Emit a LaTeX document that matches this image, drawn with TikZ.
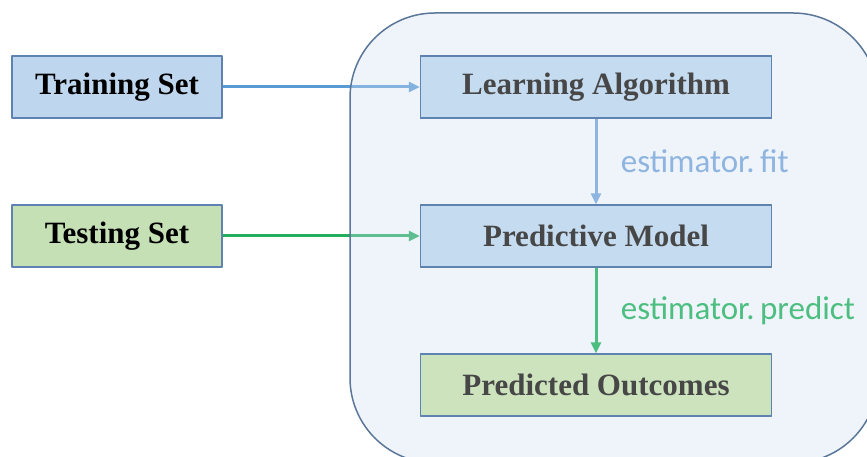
\documentclass[tikz,border=0pt]{standalone}
\usepackage{fontspec}
\setmainfont{Liberation Serif}
\newfontfamily\labfont{Carlito}
\usetikzlibrary{arrows.meta}
\definecolor{boxblue}{HTML}{BED7EE}
\definecolor{boxgreen}{HTML}{C6E0B6}
\definecolor{boxline}{HTML}{5F83B0}
\definecolor{panelfill}{HTML}{D1DDF1}
\definecolor{panelline}{HTML}{5A7698}
\definecolor{arrblue}{HTML}{5B9BD5}
\definecolor{arrgreen}{HTML}{22AE5C}
\definecolor{fitblue}{HTML}{8EB4E0}
\definecolor{predgreen}{HTML}{4CBF80}
\begin{document}
\begin{tikzpicture}[x=1pt,y=1pt,line join=round,
  box/.style={draw=boxline,line width=1.3pt,minimum width=210pt,minimum height=62pt,
    inner sep=0pt,font=\fontsize{31}{33}\selectfont\bfseries},
  wide/.style={box,minimum width=351pt,text=black!72},
  link/.style={line width=3pt,-{Triangle[length=11pt,width=10pt]}},
  lab/.style={anchor=west,font=\labfont\fontsize{33}{35}\selectfont}]
  \clip (0,0) rectangle (867,457);
  % data sets on the left
  \node[box,fill=boxblue] (train) at (117,370) {Training Set};
  \node[box,fill=boxgreen] (test) at (117,221) {Testing Set};
  \node[wide] (algo) at (596,370) {\phantom{L}};
  \node[wide] (model) at (596,221) {\phantom{P}};
  \draw[link,arrblue] (train.east) -- (algo.west);
  \draw[link,arrgreen] (test.east) -- (model.west);
  % the estimator panel
  \draw[panelline,line width=1.5pt,fill=panelfill,fill opacity=0.35,rounded corners=85pt]
    (350,-6) rectangle (878,444);
  \node[wide,fill=boxblue!90] (algo) at (596,370) {Learning Algorithm};
  \node[wide,fill=boxblue!90] (model) at (596,221) {Predictive Model};
  \node[wide,fill=boxgreen!90] (outcome) at (596,72) {Predicted Outcomes};
  \draw[link,fitblue] (algo) -- (model) node[lab,text=fitblue,pos=0.5,xshift=20pt] (fit) {estimator.\,fit};
  \draw[link,predgreen] (model) -- (outcome) node[lab,text=predgreen,pos=0.5,xshift=20pt] (pred) {estimator.\,predict};
\end{tikzpicture}
\end{document}
